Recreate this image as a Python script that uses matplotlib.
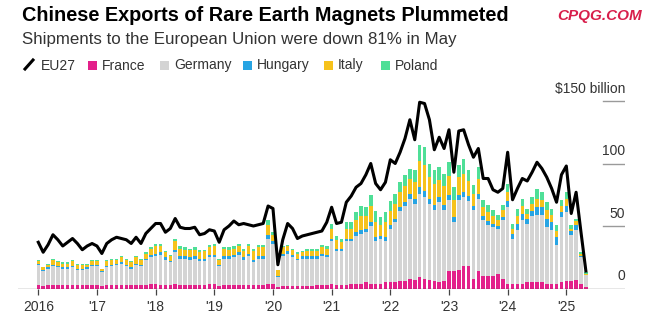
import numpy as np
import matplotlib.pyplot as plt
from matplotlib.patches import Rectangle
from matplotlib.lines import Line2D

plt.rcParams['font.family'] = ['Liberation Sans', 'DejaVu Sans']

# monthly values, Jan 2016 - May 2025
eu27 = [
    37, 29, 35, 43, 39, 34, 37, 40, 36, 31, 34, 36,
    34, 28, 36, 39, 41, 40, 39, 36, 41, 36, 44, 48,
    52, 52, 45, 48, 56, 49, 48, 48, 49, 43, 44, 47,
    46, 37, 47, 50, 54, 51, 52, 51, 50, 51, 52, 66,
    64, 19, 39, 52, 48, 40, 42, 43, 44, 45, 46, 53,
    65, 52, 53, 69, 74, 81, 84, 91, 100, 84, 79, 85,
    103, 100, 109, 120, 135, 119, 149, 148, 135, 111, 121, 112,
    127, 93, 126, 127, 115, 105, 112, 88, 88, 79, 77, 80,
    109, 71, 80, 88, 86, 93, 101, 96, 89, 80, 69, 91,
    98, 60, 77, 45, 14]

france = [
    3, 2, 3, 3, 3, 3, 3, 3, 3, 3, 3, 3,
    3, 2, 3, 3, 3, 3, 3, 3, 3, 3, 3, 4,
    4, 3, 3, 3, 4, 3, 3, 3, 3, 3, 3, 4,
    4, 2, 3, 3, 3, 3, 3, 3, 3, 3, 3, 4,
    4, 1, 2, 2, 2, 2, 2, 2, 2, 3, 3, 3,
    4, 3, 3, 3, 4, 4, 4, 5, 4, 4, 4, 5,
    5, 5, 6, 6, 8, 7, 9, 8, 7, 6, 5, 6,
    14, 14, 15, 18, 18, 8, 14, 10, 10, 10, 12, 8,
    4, 4, 4, 4, 5, 5, 5, 5, 4, 4, 4, 5,
    6, 6, 7, 4, 1]

germany = [
    16, 12, 13, 15, 14, 13, 13, 14, 12, 12, 13, 15,
    15, 11, 14, 15, 16, 17, 15, 13, 16, 15, 20, 21,
    22, 24, 20, 18, 25, 21, 21, 20, 21, 19, 19, 21,
    21, 16, 21, 21, 22, 24, 20, 23, 18, 21, 21, 36,
    32, 8, 24, 26, 23, 21, 22, 22, 22, 21, 23, 22,
    34, 27, 27, 35, 34, 38, 40, 40, 46, 34, 36, 33,
    43, 48, 56, 60, 64, 61, 67, 65, 61, 57, 64, 57,
    57, 39, 56, 55, 52, 55, 58, 45, 41, 39, 36, 47,
    61, 36, 43, 51, 47, 53, 54, 54, 45, 43, 31, 52,
    55, 37, 40, 21, 10]

hungary = [
    1, 1, 1, 1, 1, 1, 1, 1, 1, 1, 1, 1,
    1, 1, 1, 1, 1, 1, 1, 1, 1, 1, 1, 2,
    2, 2, 2, 1, 2, 2, 2, 2, 2, 2, 2, 2,
    2, 1, 2, 2, 2, 2, 2, 2, 2, 2, 2, 3,
    2, 1, 2, 2, 2, 1, 2, 2, 2, 2, 2, 2,
    2, 2, 2, 2, 2, 3, 3, 3, 3, 3, 2, 3,
    3, 3, 3, 3, 4, 4, 5, 5, 4, 4, 4, 4,
    4, 4, 4, 4, 4, 3, 4, 3, 3, 3, 2, 2,
    5, 4, 5, 5, 4, 4, 6, 6, 7, 6, 6, 4,
    5, 3, 4, 1, 0]

italy = [
    2, 2, 2, 4, 3, 3, 3, 4, 3, 3, 2, 3,
    3, 2, 4, 4, 3, 4, 4, 4, 5, 4, 4, 5,
    6, 5, 4, 4, 7, 6, 5, 6, 5, 5, 6, 6,
    7, 4, 6, 5, 5, 5, 5, 6, 7, 7, 7, 8,
    5, 5, 5, 4, 4, 4, 3, 4, 4, 4, 5, 5,
    8, 7, 5, 8, 8, 10, 11, 10, 13, 12, 9, 12,
    11, 12, 12, 13, 12, 13, 21, 21, 17, 17, 14, 15,
    15, 14, 14, 15, 12, 10, 12, 7, 7, 6, 5, 6,
    7, 4, 6, 6, 4, 6, 7, 6, 7, 6, 5, 5,
    6, 2, 3, 2, 1]

poland = [
    1, 0, 1, 1, 1, 1, 1, 1, 1, 1, 1, 1,
    1, 0, 1, 1, 1, 1, 1, 1, 1, 1, 1, 1,
    2, 2, 1, 1, 2, 2, 2, 1, 2, 2, 1, 2,
    2, 1, 1, 2, 2, 2, 2, 2, 2, 2, 2, 4,
    2, 0, 1, 1, 1, 1, 1, 2, 2, 2, 2, 2,
    4, 3, 3, 5, 5, 6, 8, 7, 9, 9, 6, 8,
    8, 8, 8, 9, 8, 10, 13, 14, 11, 11, 10, 10,
    11, 10, 10, 12, 9, 7, 9, 6, 6, 5, 4, 4,
    7, 4, 6, 6, 4, 5, 8, 6, 6, 5, 5, 5,
    5, 3, 2, 1, 1]

year_labels = ['2016', "'17", "'18", "'19", "'20", "'21", "'22", "'23", "'24", "'25"]
y_ticks = [0, 50, 100, 150]
y_labels = ['0', '50', '100', '$150 billion']

names = ['France', 'Germany', 'Hungary', 'Italy', 'Poland']
colors = ['#e3208a', '#d4d4d4', '#27a4e3', '#f6c21c', '#4fdf97']
series = [france, germany, hungary, italy, poland]

W, H = 650, 326


def fx(px):
    return px / W


def fy(py):
    return 1 - py / H


fig = plt.figure(figsize=(6.5, 3.26), dpi=100)
ax = fig.add_axes([fx(18), fy(288.5), 607 / W, 200 / H])

x = np.arange(len(eu27))
bottom = np.zeros(len(x))
for vals, col in zip(series, colors):
    ax.bar(x, vals, 0.72, bottom=bottom, color=col, linewidth=0, zorder=2)
    bottom += np.array(vals)

ax.plot(x, eu27, color='black', lw=2.2, zorder=4, solid_joinstyle='round')

ax.set_xlim(-4.15, 120)
ax.set_ylim(0, 160)
for s in ax.spines.values():
    s.set_visible(False)

ax.axhline(0, color='#444444', lw=0.9, zorder=3)
for v in y_ticks[1:]:
    ax.axhline(v, xmin=0.9638, xmax=1.0, color='#9a9a9a', lw=1.0)
for v, lab in zip(y_ticks, y_labels):
    ax.text(1.0, v + 6.5, lab, transform=ax.get_yaxis_transform(), ha='right',
            va='baseline', fontsize=10, color='#333333')

ax.set_yticks([])
ax.set_xticks(np.arange(0, len(eu27), 12))
ax.set_xticklabels(year_labels, fontsize=10, color='#333333')
ax.tick_params(axis='x', length=4, width=0.9, color='#444444', pad=4)

# title block
fig.text(fx(22), fy(21), 'Chinese Exports of Rare Earth Magnets Plummeted',
         fontsize=14.3, fontweight='bold', color='black', va='baseline')
fig.text(fx(22), fy(44), 'Shipments to the European Union were down 81% in May',
         fontsize=12.2, color='#333333', va='baseline')
fig.text(fx(642), fy(20), 'CPQG.COM', fontsize=11, fontweight='bold',
         fontstyle='italic', color='#d81e4b', ha='right', va='baseline')

# legend
fig.add_artist(Line2D([fx(25), fx(33)], [fy(69), fy(60)], color='black', lw=2.2,
                      transform=fig.transFigure))
fig.text(fx(41), fy(69.5), 'EU27', fontsize=10, color='#333333', va='baseline')
sq_x = [88, 160, 243, 324, 381]
for sx, name, col in zip(sq_x, names, colors):
    fig.add_artist(Rectangle((fx(sx), fy(69.5)), 9 / W, 9 / H, color=col,
                             transform=fig.transFigure, lw=0))
    fig.text(fx(sx + 14), fy(69.5), name, fontsize=10, color='#333333', va='baseline')

fig.savefig('out.png', dpi=100)
